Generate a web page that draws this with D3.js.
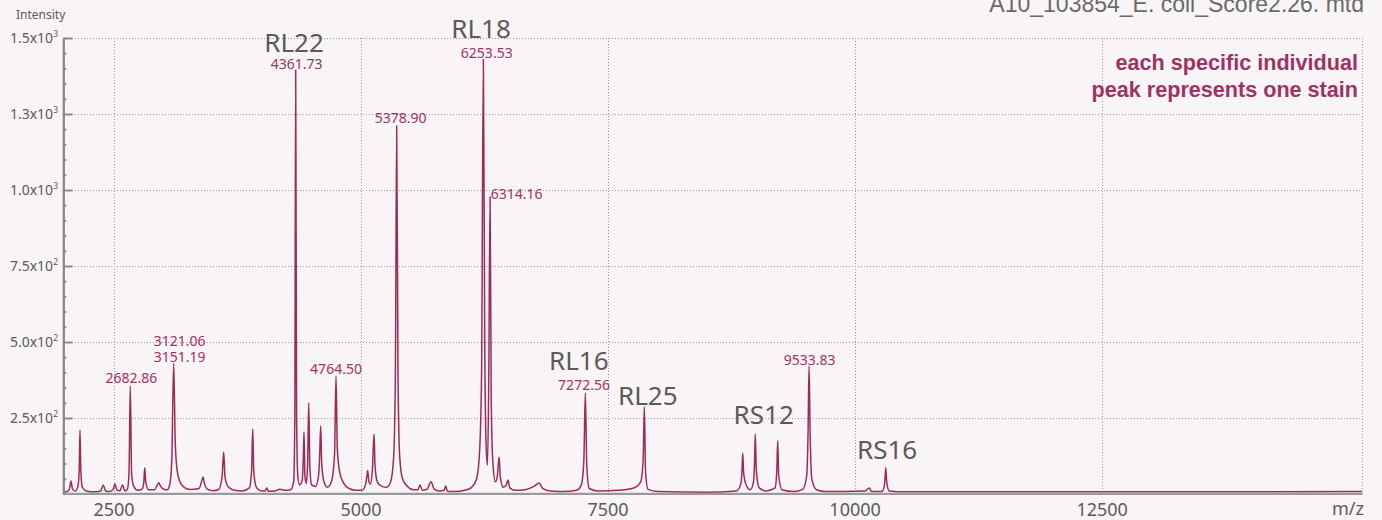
<!DOCTYPE html>
<html><head><meta charset="utf-8">
<script src="https://cdn.jsdelivr.net/npm/d3@7"></script>
<style>
html,body{margin:0;padding:0;background:#f9f5f7;}
svg{display:block;}
</style>
</head><body>
<svg id="chart" width="1382" height="520"></svg>
<script>
// ---------- data ----------
const xTicks = [2500, 5000, 7500, 10000, 12500];
const yMajor = [250, 500, 750, 1000, 1250, 1500];
const yMantissa = ["2.5", "5.0", "7.5", "1.0", "1.3", "1.5"];
const yExponent = ["2", "2", "2", "3", "3", "3"];
const titleText = "A10_103854_E. coil_Score2.26. mtd";
const noteLines = ["each specific individual", "peak represents one stain"];

// spectrum trace [m/z, intensity]
const spectrum = [
[1984,6],[2030,8],[2050,18],[2065,43],[2080,16],[2110,10],
[2135,25],[2148,80],[2156,210],[2164,80],[2180,22],[2220,10],[2300,7],
[2365,10],[2392,30],[2415,10],[2450,8],
[2490,14],[2510,33],[2530,12],[2560,11],[2588,30],[2610,10],
[2635,15],[2652,70],[2665,355],[2678,70],[2700,25],[2740,12],
[2785,16],[2802,40],[2811,86],[2822,38],[2850,14],
[2910,14],[2935,27],[2952,37],[2972,25],[3010,15],[3040,14],
[3065,32],[3085,110],[3104,431],[3120,170],[3138,80],[3165,42],[3210,22],[3270,15],
[3360,18],[3390,45],[3401,56],[3415,35],[3450,15],[3500,11],
[3560,15],[3595,60],[3610,138],[3624,55],[3660,22],[3720,12],[3800,10],
[3870,20],[3893,80],[3904,214],[3915,70],[3945,20],[4000,10],
[4030,10],[4046,20],[4062,9],[4130,10],[4180,16],[4230,12],[4290,15],
[4318,40],[4330,250],[4339,1395],[4348,250],[4360,60],[4378,30],
[4405,45],[4416,120],[4423,205],[4432,60],[4445,35],
[4459,90],[4471,300],[4482,90],[4500,30],[4540,25],
[4570,60],[4582,130],[4592,224],[4602,100],[4625,40],[4660,22],
[4700,40],[4732,130],[4747,388],[4760,150],[4785,70],[4825,35],[4880,18],[4950,12],[5010,12],
[5045,30],[5060,60],[5068,77],[5080,40],[5095,32],
[5115,80],[5124,150],[5132,197],[5142,90],[5165,40],[5210,25],[5260,22],
[5300,40],[5330,120],[5348,400],[5361,1211],[5374,400],[5392,120],[5420,50],[5470,25],[5530,14],
[5575,14],[5597,30],[5620,12],[5670,16],[5708,40],[5740,16],[5790,10],[5840,12],[5857,26],[5875,9],
[5950,8],[6050,12],[6120,22],[6170,50],[6200,140],[6220,400],[6238,1430],[6252,500],[6266,160],[6280,95],
[6292,350],[6306,978],[6318,300],[6335,100],[6360,40],[6380,60],[6397,122],[6410,55],[6440,22],
[6470,30],[6488,46],[6505,20],[6560,12],[6660,14],[6750,25],[6802,36],[6840,18],[6920,10],[7050,8],
[7180,12],[7230,30],[7255,110],[7270,333],[7285,90],[7310,18],[7400,10],[7600,12],[7760,20],[7830,40],
[7855,110],[7867,287],[7880,70],[7905,15],[8000,8],
[8500,6],[8800,10],[8845,35],[8856,80],[8863,135],[8872,70],[8900,28],[8940,14],
[8972,40],[8982,100],[8990,197],[9000,80],[9030,20],[9100,10],
[9190,20],[9208,80],[9217,175],[9227,60],[9260,14],[9380,8],
[9470,15],[9510,60],[9524,200],[9534,421],[9545,200],[9562,50],[9610,14],[9700,8],
[10100,10],[10145,20],[10165,8],[10270,8],[10295,25],[10305,60],[10311,86],[10320,40],[10345,10],
[10500,7],[12000,7],[15130,8]
];

// m/z peak labels: text, peak m/z, peak intensity
const mzLabelText = ["2682.86","3121.06","3151.19","4361.73","4764.50","5378.90","6253.53","6314.16","7272.56","9533.83"];
const mzLabelPeak = [2665, 3104, 3104, 4339, 4747, 5361, 6238, 6306, 7270, 9534];
const mzLabelInt  = [355, 431, 431, 1395, 388, 1211, 1430, 978, 333, 421];

// protein labels
const protText = ["RL22","RL18","RL16","RL25","RS12","RS16"];
const protPeak = [4339, 6238, 7270, 7867, 8990, 10311];
const protInt  = [1395, 1430, 333, 287, 197, 86];

// ---------- layout / style ----------
const mzLabelLayout = [[1,-3,"middle"],[6,-16.5,"middle"],[6,-1,"middle"],[1,-1,"middle"],[0,-2,"middle"],
  [4,-2.6,"middle"],[3.4,-1.6,"middle"],[0.7,2.6,"start"],[-1.3,-2.8,"middle"],[0.5,-1,"middle"]];
const protLayout = [[-1.7,-18.3],[-2.3,-21],[-6.5,-22.8],[3.5,-1.7],[8.4,-10],[1.3,-8.6]];

const LINE = "#9c2b5b", LABEL = "#a23161", GREY = "#5a5a5a";
const pL = 63, pR = 1362, pT = 38, pB = 494;

const svg = d3.select("#chart");
const x = d3.scaleLinear().domain([1984, 15130]).range([pL, pR]);
const y = d3.scaleLinear().domain([0, 1500]).range([pB, pT]);

// grid
const grid = svg.append("g").attr("stroke", "#9a9a9a").attr("stroke-width", 1).attr("stroke-dasharray", "1,2");
grid.selectAll("line.h").data(yMajor).join("line").attr("class","h")
  .attr("x1", pL).attr("x2", pR).attr("y1", d => Math.round(y(d)) + 0.5).attr("y2", d => Math.round(y(d)) + 0.5);
grid.selectAll("line.v").data(xTicks).join("line").attr("class","v")
  .attr("x1", d => Math.round(x(d)) + 0.5).attr("x2", d => Math.round(x(d)) + 0.5).attr("y1", pT).attr("y2", pB - 1);
grid.append("line").attr("x1", pR + 0.5).attr("x2", pR + 0.5).attr("y1", pT).attr("y2", pB - 1);

// spectrum
const line = d3.line().x(d => x(d[0])).y(d => y(d[1])).curve(d3.curveMonotoneX);
svg.append("path").datum(spectrum).attr("d", line)
  .attr("fill", "none").attr("stroke", LINE).attr("stroke-width", 1.5).attr("stroke-linejoin", "round");

// x axis (line only, no ticks)
const xAxis = svg.append("g").attr("transform", `translate(0,${pB - 0.7})`)
  .call(d3.axisBottom(x).tickValues([]).tickSizeOuter(0));
xAxis.select(".domain").attr("stroke", "#9a9a9a").attr("stroke-width", 2.2);
svg.append("g").selectAll("text").data(xTicks).join("text")
  .attr("x", d => x(d)).attr("y", 516).attr("text-anchor", "middle")
  .attr("font-family", "Noto Sans").attr("font-size", 18).attr("fill", GREY).text(d => d);
svg.append("text").attr("x", 1364).attr("y", 515).attr("text-anchor", "end")
  .attr("font-family", "Noto Sans").attr("font-size", 18).attr("fill", GREY).text("m/z");

// y axis
const minor = d3.range(50, 1500, 50).filter(v => v % 250 !== 0);
const yMinorAxis = svg.append("g").attr("transform", `translate(${pL + 0.3},0)`)
  .call(d3.axisLeft(y).tickValues(minor).tickSize(-3).tickFormat("").tickSizeOuter(0));
const yMajorAxis = svg.append("g").attr("transform", `translate(${pL + 0.3},0)`)
  .call(d3.axisLeft(y).tickValues(yMajor).tickSize(-9).tickFormat("").tickSizeOuter(0));
[yMinorAxis, yMajorAxis].forEach(g => {
  g.selectAll(".tick line").attr("stroke", "#8a8a8a").attr("stroke-width", 2);
  g.select(".domain").attr("stroke", "#8a8a8a").attr("stroke-width", 2);
});
const yl = svg.append("g").selectAll("text").data(yMajor).join("text")
  .attr("x", 58).attr("y", d => y(d) + 4.8).attr("text-anchor", "end")
  .attr("font-family", "Noto Sans").attr("font-size", 14).attr("fill", GREY);
yl.append("tspan").text((d, i) => yMantissa[i] + "x10");
yl.append("tspan").attr("dy", -6).attr("font-size", 8.5).text((d, i) => yExponent[i]);
svg.append("text").attr("x", 16).attr("y", 19).attr("font-family", "Noto Sans").attr("font-size", 12)
  .attr("fill", GREY).text("Intensity");

// title & note
svg.append("text").attr("x", 1364).attr("y", 12).attr("text-anchor", "end")
  .attr("font-family", "Liberation Sans").attr("font-size", 23).attr("fill", "#6a6a6a").text(titleText);
svg.append("g").selectAll("text").data(noteLines).join("text")
  .attr("x", 1358).attr("y", (d, i) => 70 + i * 27).attr("text-anchor", "end")
  .attr("font-family", "Liberation Sans").attr("font-weight", "bold").attr("font-size", 21.6)
  .attr("fill", "#a03262").text(d => d);

// m/z labels
svg.append("g").selectAll("text").data(mzLabelText).join("text")
  .attr("x", (d, i) => x(mzLabelPeak[i]) + mzLabelLayout[i][0])
  .attr("y", (d, i) => y(mzLabelInt[i]) + mzLabelLayout[i][1])
  .attr("text-anchor", (d, i) => mzLabelLayout[i][2])
  .attr("font-family", "Noto Sans").attr("font-size", 14).attr("fill", LABEL).text(d => d);

// protein labels
svg.append("g").selectAll("text").data(protText).join("text")
  .attr("x", (d, i) => x(protPeak[i]) + protLayout[i][0])
  .attr("y", (d, i) => y(protInt[i]) + protLayout[i][1])
  .attr("text-anchor", "middle")
  .attr("font-family", "Noto Sans").attr("font-size", 26).attr("fill", GREY).text(d => d);
</script>
</body></html>
